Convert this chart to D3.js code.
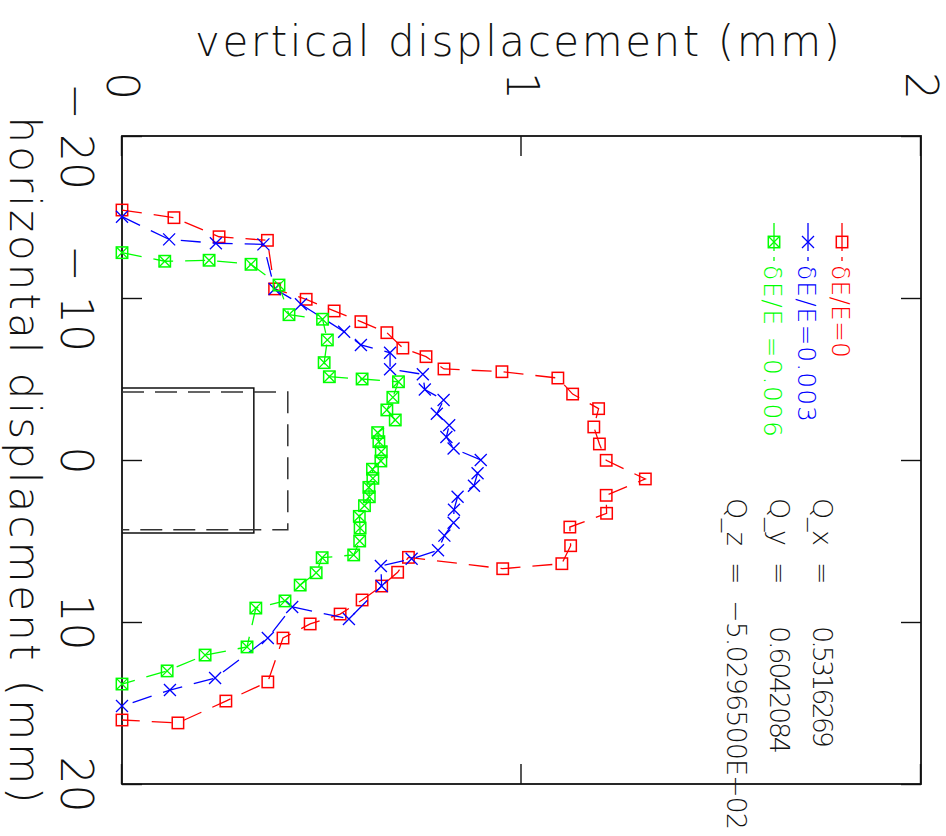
<!DOCTYPE html>
<html>
<head>
<meta charset="utf-8">
<script src="https://cdn.jsdelivr.net/npm/d3@7"></script>
<style>
  html, body { margin: 0; padding: 0; background: #fff; }
  svg text { font-family: "DejaVu Sans ExtraLight", "DejaVu Sans Light", "DejaVu Sans", sans-serif; font-weight: 200; }
</style>
</head>
<body>
<svg id="chart" width="946" height="836"></svg>
<script>
// Horizontal displacement (mm) and vertical displacement (mm) for each series, in plotting order
const hRed = [-15.43, -14.96, -13.78, -13.56, -10.56, -9.92, -9.20, -8.54, -7.86, -6.91, -6.38, -5.62, -5.45, -5.06, -4.07, -3.17, -2.04, -0.99, 0.02, 1.17, 2.18, 3.29, 4.14, 5.29, 6.40, 6.71, 6.01, 6.93, 7.78, 8.64, 9.51, 10.12, 10.99, 13.70, 14.88, 16.23, 16.05];
const vRed = [0.00, 0.130, 0.243, 0.364, 0.382, 0.461, 0.531, 0.598, 0.663, 0.703, 0.761, 0.806, 0.951, 1.091, 1.128, 1.193, 1.181, 1.195, 1.212, 1.310, 1.212, 1.213, 1.121, 1.123, 1.101, 0.953, 0.717, 0.690, 0.650, 0.601, 0.546, 0.471, 0.403, 0.365, 0.260, 0.140, 0.00];

const hBlue = [-15.02, -13.62, -13.38, -13.31, -10.56, -9.61, -7.92, -7.10, -6.62, -5.60, -5.29, -4.35, -3.70, -2.85, -2.15, -1.42, -0.71, 0.00, 0.82, 1.59, 2.27, 3.07, 3.87, 4.67, 5.57, 6.10, 6.54, 7.78, 9.81, 9.07, 10.99, 13.46, 14.20, 15.19];
const vBlue = [0.00, 0.118, 0.235, 0.354, 0.382, 0.448, 0.556, 0.598, 0.671, 0.671, 0.753, 0.758, 0.805, 0.788, 0.819, 0.812, 0.830, 0.898, 0.890, 0.881, 0.840, 0.831, 0.830, 0.807, 0.791, 0.725, 0.648, 0.650, 0.568, 0.426, 0.365, 0.233, 0.120, 0.00];

const hGreen = [-12.80, -12.27, -12.33, -12.08, -10.80, -8.97, -8.69, -7.41, -6.01, -5.14, -5.00, -4.83, -3.87, -3.09, -2.47, -1.69, -1.13, -0.51, 0.06, 0.57, 1.13, 1.69, 2.27, 2.82, 3.48, 4.20, 5.00, 5.86, 6.03, 6.96, 7.72, 8.70, 9.14, 11.54, 12.04, 13.02, 13.83];
const vGreen = [0.00, 0.107, 0.218, 0.323, 0.393, 0.418, 0.502, 0.514, 0.506, 0.519, 0.601, 0.692, 0.678, 0.663, 0.684, 0.640, 0.643, 0.649, 0.648, 0.627, 0.628, 0.618, 0.619, 0.607, 0.594, 0.596, 0.595, 0.580, 0.501, 0.486, 0.446, 0.408, 0.335, 0.313, 0.208, 0.113, 0.00];

const seriesNames = ["δE/E=0", "δE/E=0.003", "δE/E =0.006"];
const seriesColors = ["#ff0000", "#0000ff", "#00ff00"];
const seriesMarkers = ["square", "cross", "boxcross"];

// Axis ticks
const hTicks = [-20, -10, 0, 10, 20];
const vTicks = [0, 1, 2];

// Beam aperture outlines (mm): h from, h to, vertical extent
const apertureSolid = [-4.45, 4.5, 0.33];
const apertureDashed = [-4.2, 4.3, 0.415];

// Quadrupole strengths printed in the corner
const qNames = ["Q_x", "Q_y", "Q_z"];
const qValues = ["0.5316269", "0.6042084", "−5.0296500E−02"];

const W = 946, H = 836;
const FONT = '"DejaVu Sans ExtraLight", "DejaVu Sans Light", "DejaVu Sans", sans-serif';
const svg = d3.select("#chart");

// The whole plot is drawn turned a quarter turn clockwise
const g = svg.append("g").attr("transform", `translate(${W},0) rotate(90)`);

const x = d3.scaleLinear().domain([-20, 20]).range([136, 784]);
const y = d3.scaleLinear().domain([0, 2]).range([824, 25]);

const fmt = d => d < 0 ? "− " + Math.abs(d) : String(d);

// Axes with inward ticks
const axB = g.append("g").attr("transform", `translate(0,${y(0)})`)
  .call(d3.axisBottom(x).tickValues(hTicks).tickSizeInner(-20).tickSizeOuter(0).tickPadding(30).tickFormat(fmt));
const axT = g.append("g").attr("transform", `translate(0,${y(2)})`)
  .call(d3.axisTop(x).tickValues(hTicks).tickSizeInner(-20).tickSizeOuter(0).tickFormat(""));
const axL = g.append("g").attr("transform", `translate(${x(-20)},0)`)
  .call(d3.axisLeft(y).tickValues(vTicks).tickSizeInner(-20).tickSizeOuter(0).tickPadding(36).tickFormat(d3.format("d")));
const axR = g.append("g").attr("transform", `translate(${x(20)},0)`)
  .call(d3.axisRight(y).tickValues(vTicks).tickSizeInner(-20).tickSizeOuter(0).tickFormat(""));

[axB, axT, axL, axR].forEach(a => {
  a.select(".domain").remove();
  a.selectAll("line").attr("stroke", "#111").attr("stroke-width", 1.4);
  a.selectAll("text").attr("fill", "#111").style("font-size", "44px")
    .style("font-family", FONT).style("font-weight", 200);
});

// Frame
g.append("rect")
  .attr("x", x(-20)).attr("y", y(2))
  .attr("width", x(20) - x(-20)).attr("height", y(0) - y(2))
  .attr("fill", "none").attr("stroke", "#111").attr("stroke-width", 1.8);

// Axis titles
g.append("text")
  .attr("x", x(0)).attr("y", 936)
  .attr("text-anchor", "middle")
  .attr("textLength", 687).attr("lengthAdjust", "spacing")
  .style("font-size", "42px").attr("fill", "#111")
  .text("horizontal displacment (mm)");

g.append("text")
  .attr("transform", `translate(56,${y(1) + 4}) rotate(-90)`)
  .attr("text-anchor", "middle")
  .attr("textLength", 645).attr("lengthAdjust", "spacing")
  .style("font-size", "42px").attr("fill", "#111")
  .text("vertical displacement (mm)");

// Aperture outlines
const outline = a => d3.line()([[x(a[0]), y(0)], [x(a[0]), y(a[2])], [x(a[1]), y(a[2])], [x(a[1]), y(0)]]);
g.append("path").attr("d", outline(apertureSolid))
  .attr("fill", "none").attr("stroke", "#111").attr("stroke-width", 1.5);
g.append("path").attr("d", outline(apertureDashed))
  .attr("fill", "none").attr("stroke", "#333").attr("stroke-width", 1.5)
  .attr("stroke-dasharray", "22,11");

// Marker shapes
function drawMarker(sel, type, color, cx, cy) {
  const s = 5.7;
  if (type === "square" || type === "boxcross") {
    sel.append("rect").attr("x", cx - s).attr("y", cy - s).attr("width", 2 * s).attr("height", 2 * s)
      .attr("fill", "none").attr("stroke", color).attr("stroke-width", 1.5);
  }
  if (type === "cross" || type === "boxcross") {
    const c = type === "cross" ? 6 : s;
    sel.append("path")
      .attr("d", `M${cx - c},${cy - c}L${cx + c},${cy + c}M${cx - c},${cy + c}L${cx + c},${cy - c}`)
      .attr("fill", "none").attr("stroke", color).attr("stroke-width", 1.3);
  }
}

const series = [
  { h: hRed, v: vRed },
  { h: hBlue, v: vBlue },
  { h: hGreen, v: vGreen }
];

const line = d3.line().x(d => x(d[0])).y(d => y(d[1]));

series.forEach((s, i) => {
  const pts = s.h.map((h, k) => [h, s.v[k]]);
  const sg = g.append("g");
  sg.append("path").attr("d", line(pts))
    .attr("fill", "none").attr("stroke", seriesColors[i]).attr("stroke-width", 1.3)
    .attr("stroke-dasharray", "20,12");
  pts.forEach(p => drawMarker(sg, seriesMarkers[i], seriesColors[i], x(p[0]), y(p[1])));
});

// Legend
const legendBase = [114, 148, 182];
seriesNames.forEach((name, i) => {
  const lg = g.append("g");
  const cy = legendBase[i] - 10;
  lg.append("line").attr("x1", 223).attr("x2", 251).attr("y1", cy).attr("y2", cy)
    .attr("stroke", seriesColors[i]).attr("stroke-width", 1.3);
  lg.append("line").attr("x1", 257).attr("x2", 261).attr("y1", cy).attr("y2", cy)
    .attr("stroke", seriesColors[i]).attr("stroke-width", 1.3);
  drawMarker(lg, seriesMarkers[i], seriesColors[i], 242, cy);
  lg.append("text").attr("x", 265).attr("y", legendBase[i])
    .attr("fill", seriesColors[i]).style("font-size", "25px")
    .attr("textLength", [93, 157, 172][i]).attr("lengthAdjust", "spacing")
    .text(name);
});

// Quadrupole values
const qBase = [133, 176, 219];
qNames.forEach((n, i) => {
  g.append("text").attr("x", 498).attr("y", qBase[i]).attr("fill", "#111")
    .style("font-size", "27px").attr("textLength", 48).attr("lengthAdjust", "spacing").text(n);
  g.append("text").attr("x", 562).attr("y", qBase[i]).attr("fill", "#111")
    .style("font-size", "27px").text("=");
  const vx = i === 2 ? 600 : 626;
  const len = [122, 128, 230][i];
  g.append("text").attr("x", vx).attr("y", qBase[i]).attr("fill", "#111")
    .style("font-size", "27px").attr("textLength", len).attr("lengthAdjust", "spacing").text(qValues[i]);
});
</script>
</body>
</html>
